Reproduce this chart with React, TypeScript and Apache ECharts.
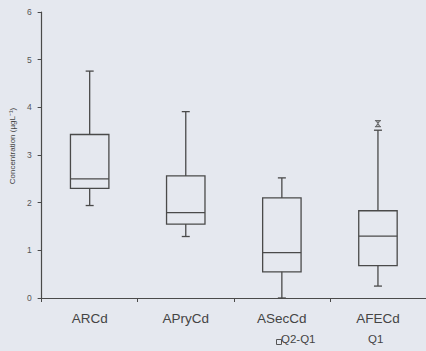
import React, { useEffect, useRef } from "react";
import * as echarts from "echarts";

const categories = ["ARCd", "APryCd", "ASecCd", "AFECd"];
const whiskerLow = [1.94, 1.29, 0, 0.25];
const q1 = [2.3, 1.55, 0.55, 0.68];
const median = [2.5, 1.79, 0.95, 1.3];
const q3 = [3.43, 2.56, 2.1, 1.83];
const whiskerHigh = [4.76, 3.91, 2.52, 3.52];
const outlierCategory = [3];
const outlierValue = [3.66];
const legendLabels = ["Q2-Q1", "Q1"];

const INK = "#4a4a4a";

export default function App() {
  const ref = useRef<HTMLDivElement>(null);
  useEffect(() => {
    const chart = echarts.init(ref.current!, null, { renderer: "svg" });
    const boxData = categories.map((_, i) => [i, whiskerLow[i], q1[i], median[i], q3[i], whiskerHigh[i]]);
    chart.setOption({
      animation: false,
      backgroundColor: "#e5e8ef",
      grid: { left: 41, top: 12, bottom: 53, width: 388 },
      xAxis: {
        type: "category",
        data: categories,
        boundaryGap: true,
        axisLine: { lineStyle: { color: INK, width: 1.2 } },
        axisTick: { show: true, length: 4, inside: false, lineStyle: { color: INK } },
        axisLabel: { color: "#444", fontSize: 13.5, margin: 13, fontFamily: "Liberation Sans" },
        splitLine: { show: false },
      },
      yAxis: {
        type: "value",
        min: 0,
        max: 6,
        interval: 1,
        name: "Concentration (µgL⁻¹)",
        nameLocation: "middle",
        nameGap: 20,
        nameTextStyle: { color: "#444", fontSize: 8, fontFamily: "Liberation Sans", padding: [0, 0, 0, 18] },
        axisLine: { show: true, lineStyle: { color: INK, width: 1.2 } },
        axisTick: { show: true, length: 4, lineStyle: { color: INK } },
        axisLabel: { color: "#555", fontSize: 8.5, margin: 10, fontFamily: "Liberation Sans" },
        splitLine: { show: false },
      },
      series: [
        {
          type: "custom",
          data: boxData,
          renderItem: (params: any, api: any) => {
            const idx = api.value(0);
            const band = api.size([1, 0])[0];
            const half = band * 0.2;
            const cap = 4;
            const pLow = api.coord([idx, api.value(1)]);
            const pQ1 = api.coord([idx, api.value(2)]);
            const pMed = api.coord([idx, api.value(3)]);
            const pQ3 = api.coord([idx, api.value(4)]);
            const pHigh = api.coord([idx, api.value(5)]);
            const x = pMed[0];
            const style = { stroke: INK, lineWidth: 1.3, fill: "none" };
            return {
              type: "group",
              children: [
                { type: "line", shape: { x1: x, y1: pQ3[1], x2: x, y2: pHigh[1] }, style },
                { type: "line", shape: { x1: x, y1: pQ1[1], x2: x, y2: pLow[1] }, style },
                { type: "line", shape: { x1: x - cap, y1: pHigh[1], x2: x + cap, y2: pHigh[1] }, style },
                { type: "line", shape: { x1: x - cap, y1: pLow[1], x2: x + cap, y2: pLow[1] }, style },
                {
                  type: "rect",
                  shape: { x: x - half, y: pQ3[1], width: half * 2, height: pQ1[1] - pQ3[1] },
                  style,
                },
                { type: "line", shape: { x1: x - half, y1: pMed[1], x2: x + half, y2: pMed[1] }, style },
              ],
            };
          },
        },
        {
          type: "scatter",
          data: outlierCategory.map((c, i) => [c, outlierValue[i]]),
          symbol: "path://M0,0 L10,0 M0,10 L10,10 M2,0 L8,10 M8,0 L2,10",
          symbolSize: [6, 6],
          itemStyle: { color: "none", borderColor: INK, borderWidth: 1.2 },
        },
      ],
      graphic: [
        { type: "rect", left: 274, top: 337, shape: { width: 5, height: 5 }, style: { fill: "none", stroke: "#555", lineWidth: 1 } },
        { type: "text", left: 281, top: 333, style: { text: legendLabels[0], fill: "#444", font: "11.5px Liberation Sans" } },
        { type: "text", left: 368, top: 333, style: { text: legendLabels[1], fill: "#444", font: "11.5px Liberation Sans" } },
      ],
    });
    return () => chart.dispose();
  }, []);
  return <div ref={ref} style={{ position: "absolute", left: 0, top: 0, width: 426, height: 351 }} />;
}
